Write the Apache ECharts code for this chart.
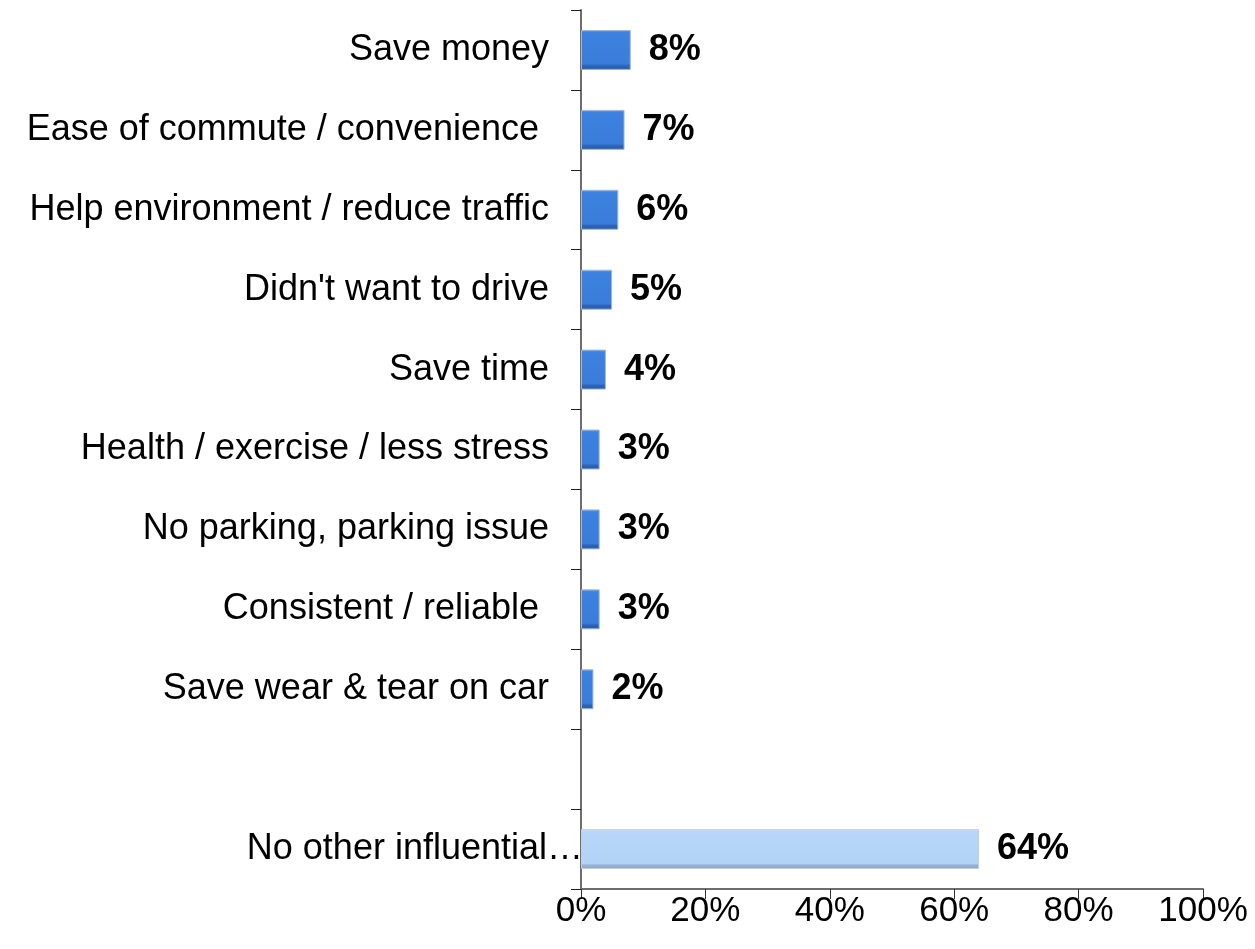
<!DOCTYPE html>
<html>
<head>
<meta charset="utf-8">
<script src="https://cdn.jsdelivr.net/npm/echarts@6/dist/echarts.min.js"></script>
<style>
  html, body { margin: 0; padding: 0; background: #fff; }
  #chart { width: 1255px; height: 949px; }
</style>
</head>
<body>
<div id="chart"></div>
<script>
// Reasons given for the choice (share of respondents)
const categories = [
  'Save money',
  'Ease of commute / convenience ',
  'Help environment / reduce traffic',
  "Didn't want to drive",
  'Save time',
  'Health / exercise / less stress',
  'No parking, parking issue',
  'Consistent / reliable ',
  'Save wear & tear on car',
  '',
  'No other influential…'
];
const values = [8, 7, 6, 5, 4, 3, 3, 3, 2, null, 64];
const highlightIndex = 10;           // the "no other reason" bar is drawn in light blue
const xTicks = [0, 20, 40, 60, 80, 100];

const FONT = '"Liberation Sans", Arial, sans-serif';

const blueFill = {
  type: 'linear', x: 0, y: 0, x2: 0, y2: 1,
  colorStops: [
    { offset: 0, color: '#6ea6ec' },
    { offset: 0.06, color: '#3d82e0' },
    { offset: 0.85, color: '#3a7cda' },
    { offset: 0.9, color: '#2c63b6' },
    { offset: 1, color: '#2a5ba6' }
  ]
};
const lightFill = {
  type: 'linear', x: 0, y: 0, x2: 0, y2: 1,
  colorStops: [
    { offset: 0, color: '#d4e6fb' },
    { offset: 0.06, color: '#b7d6f8' },
    { offset: 0.86, color: '#b3d3f6' },
    { offset: 0.9, color: '#98b4d6' },
    { offset: 1, color: '#8aa3c4' }
  ]
};

const barData = values.map((v, i) => ({
  value: v,
  itemStyle: {
    color: i === highlightIndex ? lightFill : blueFill,
    borderColor: i === highlightIndex ? '#c4cfdc' : '#9fb6d6',
    borderWidth: 1
  }
}));

const catData = categories.map((c, i) => i === highlightIndex
  ? { value: c, textStyle: { padding: [0, -34, 0, 0] } }
  : c);

const chart = echarts.init(document.getElementById('chart'));
chart.setOption({
  animation: false,
  backgroundColor: '#ffffff',
  grid: { left: 581, right: 52, top: 10, bottom: 60, containLabel: false },
  xAxis: {
    type: 'value',
    min: 0, max: 100, interval: 20,
    axisLine: { show: true, lineStyle: { color: '#6e6e6e', width: 2 } },
    axisTick: { show: true, length: 10, lineStyle: { color: '#333', width: 1 } },
    splitLine: { show: false },
    axisLabel: {
      formatter: v => xTicks.includes(v) ? v + '%' : '',
      color: '#000', fontFamily: FONT, fontSize: 35, margin: 5
    }
  },
  yAxis: {
    type: 'category',
    inverse: true,
    data: catData,
    axisLine: { show: true, lineStyle: { color: '#6e6e6e', width: 2 } },
    axisTick: { show: true, length: 10, alignWithLabel: false, lineStyle: { color: '#222', width: 1 } },
    axisLabel: {
      interval: 0, color: '#000', fontFamily: FONT, fontSize: 36, margin: 32
    }
  },
  series: [{
    type: 'bar',
    data: barData,
    barWidth: '50%',
    label: {
      show: true,
      position: 'right',
      distance: 18,
      formatter: p => p.value == null ? '' : p.value + '%',
      color: '#000', fontFamily: FONT, fontSize: 36, fontWeight: 'bold'
    }
  }]
});
</script>
</body>
</html>
